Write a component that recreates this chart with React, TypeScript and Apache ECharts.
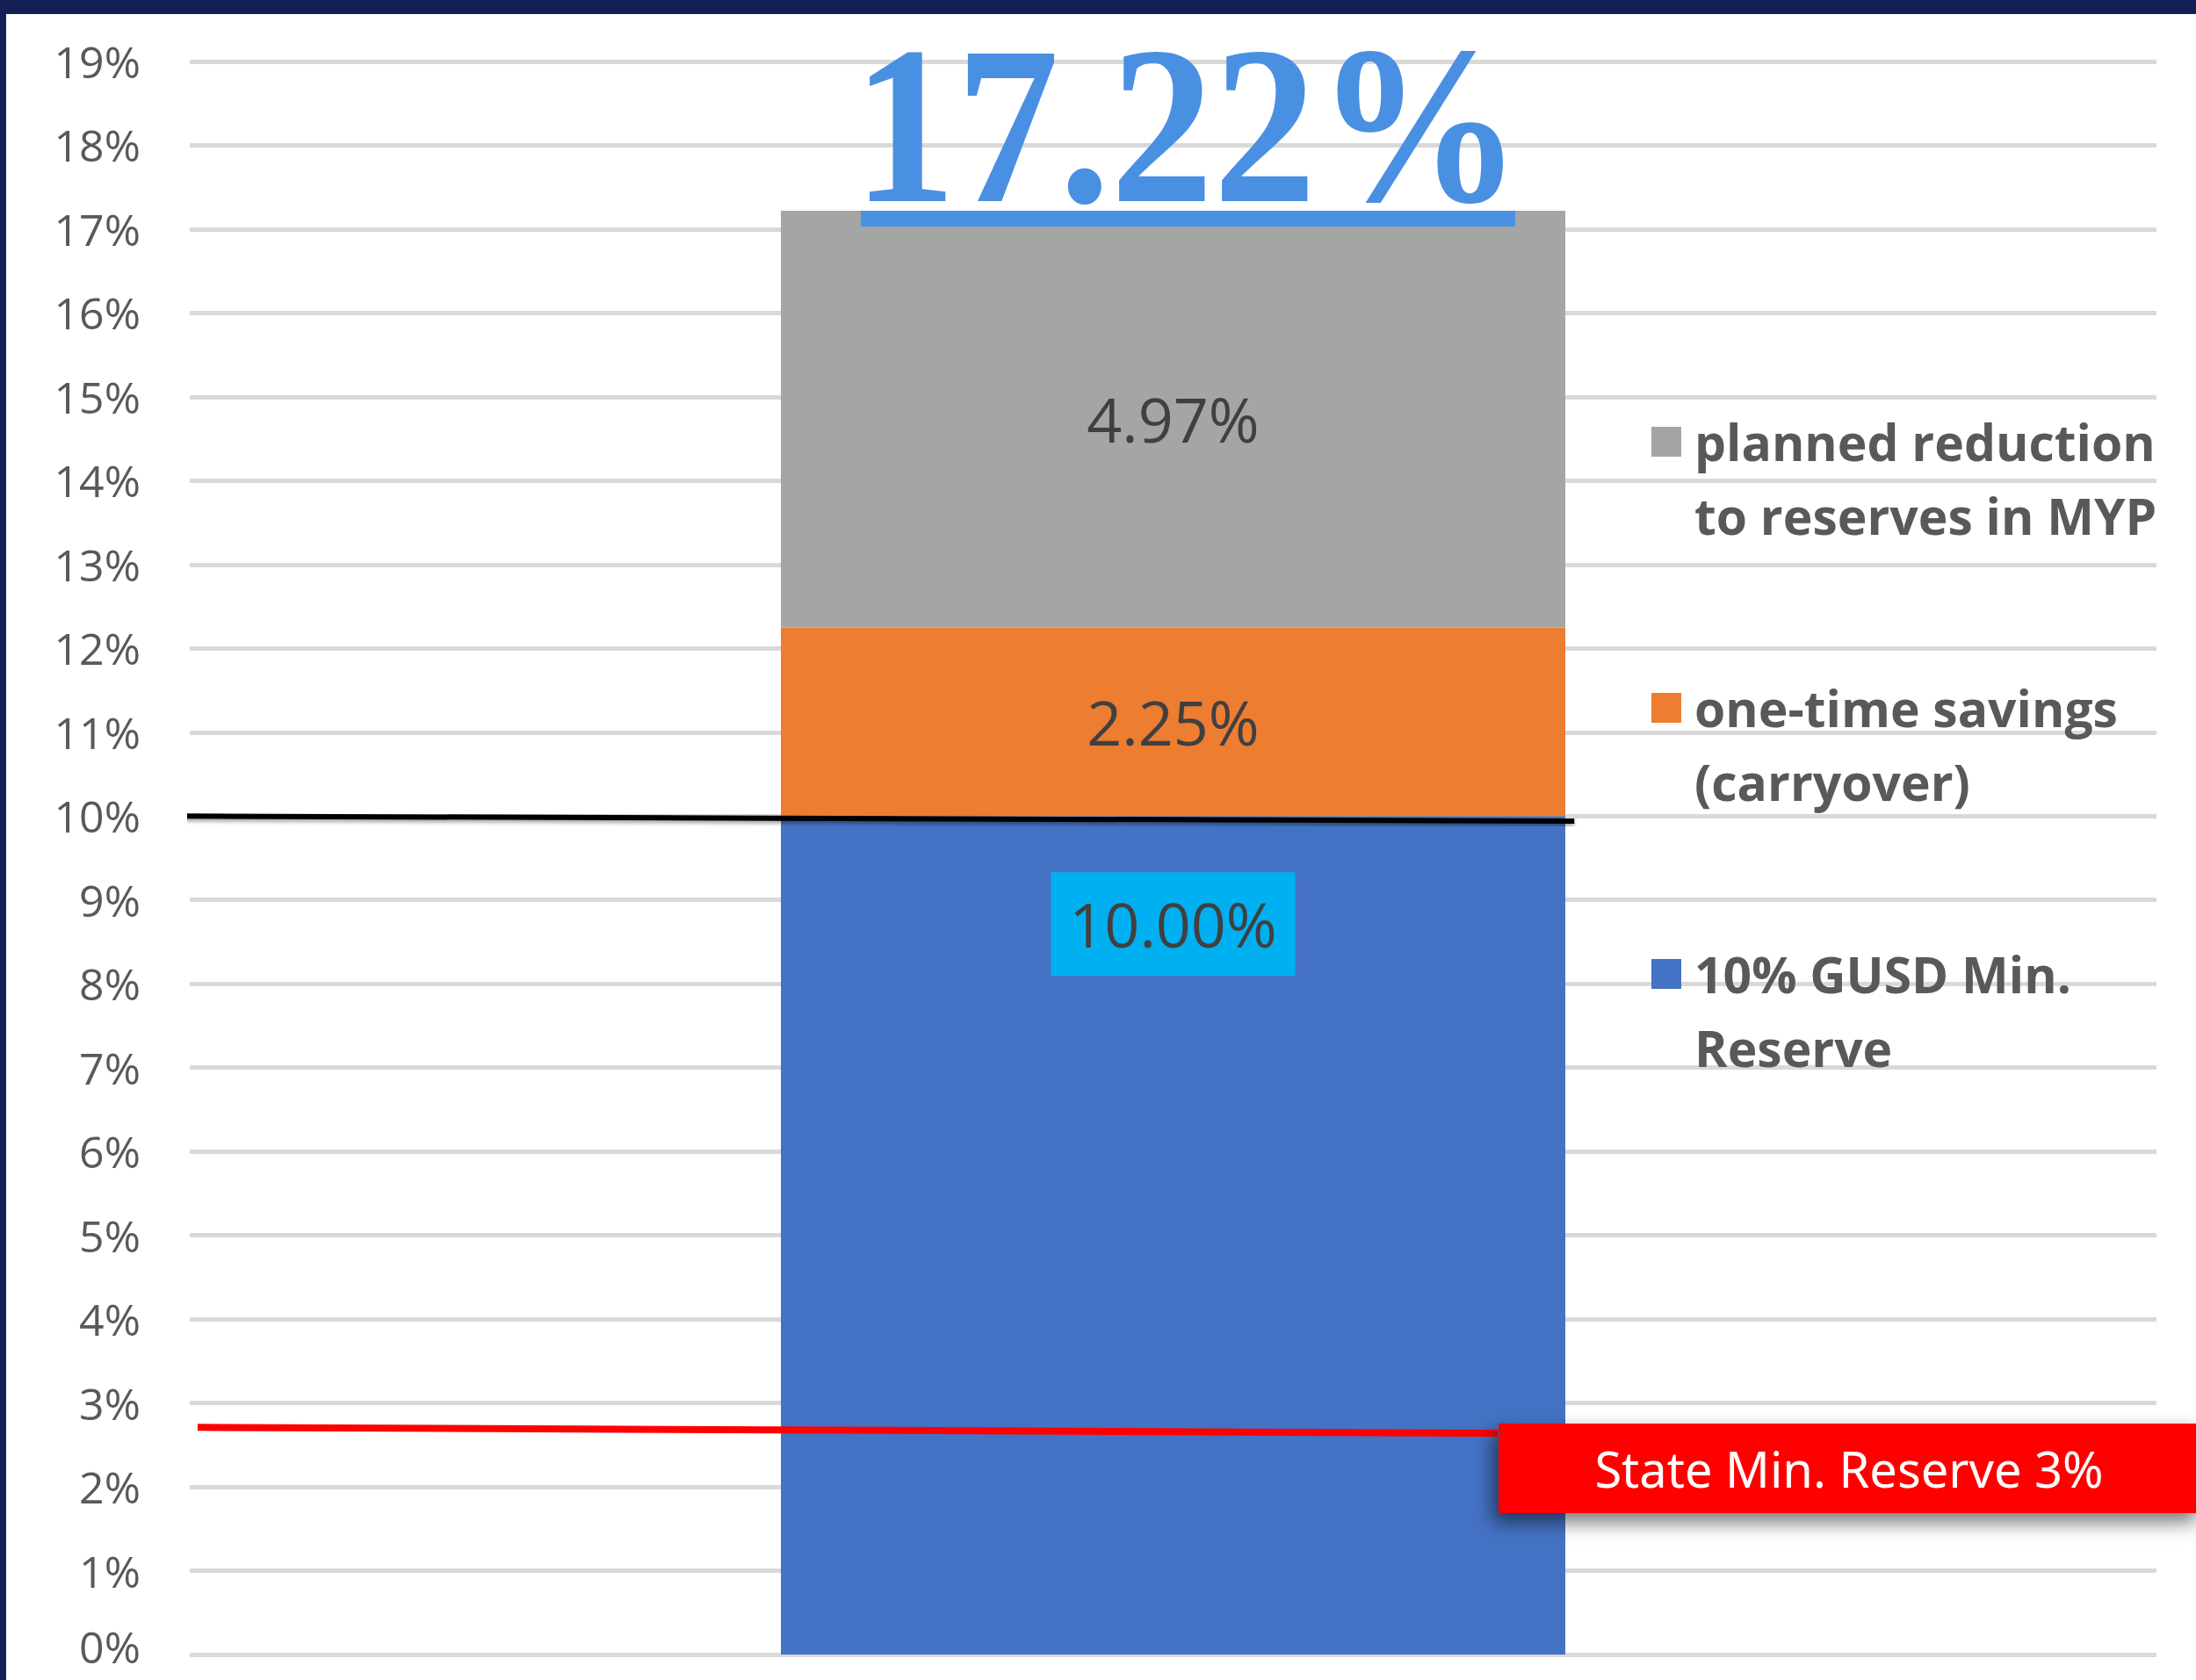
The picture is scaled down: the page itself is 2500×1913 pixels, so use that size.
import React, { useEffect, useRef } from "react";
import * as echarts from "echarts";

// ---- data ----
const categories = [""];
const seriesNames = [
  "10% GUSD Min. Reserve",
  "one-time savings (carryover)",
  "planned reduction to reserves in MYP",
];
const minReserve = [10.0];
const oneTimeSavings = [2.25];
const plannedReduction = [4.97];
const legendOrder = [seriesNames[2], seriesNames[1], seriesNames[0]];
const legendLabels: Record<string, string> = {
  "planned reduction to reserves in MYP": "planned reduction\nto reserves in MYP",
  "one-time savings (carryover)": "one-time savings\n(carryover)",
  "10% GUSD Min. Reserve": "10% GUSD Min.\nReserve",
};
const yMin = 0;
const yMax = 19;
const yInterval = 1;
// reference lines: [position along a hidden 0-100 x scale, value in %]
const districtLine = [
  [-0.5, 10.0],
  [70.4, 9.94],
];
const stateLine = [
  [0.4, 2.71],
  [66.5, 2.64],
];
const stateLabel = "State Min. Reserve 3%";

const total = minReserve[0] + oneTimeSavings[0] + plannedReduction[0];

// legend icon: square aligned with the first text line (invisible anchors set the box)
const legendIcon =
  "path://M0,0L0.01,0L0.01,0.01Z M0,25H34V59H0Z M33.99,168L34,168L34,167.99Z";

export default function App() {
  const ref = useRef<HTMLDivElement>(null);
  useEffect(() => {
    if (!ref.current) return;
    const chart = echarts.init(ref.current, null, { renderer: "svg" });
    const segLabel = {
      show: true,
      position: "inside",
      color: "#404040",
      fontSize: 70,
      fontFamily: "Open Sans",
      formatter: (p: any) => Number(p.value).toFixed(2) + "%",
    };
    chart.setOption({
      animation: false,
      backgroundColor: "#ffffff",
      grid: { left: 216, right: 45, top: 70, bottom: 29, containLabel: false },
      xAxis: [
        {
          type: "category",
          data: categories,
          axisLine: { show: false },
          axisTick: { show: false },
          axisLabel: { show: false },
        },
        { type: "value", min: 0, max: 100, show: false },
      ],
      yAxis: {
        type: "value",
        min: yMin,
        max: yMax,
        interval: yInterval,
        axisLine: { show: false },
        axisTick: { show: false },
        axisLabel: {
          formatter: (v: number) => (v === 0 ? "{z|" + v + "%}" : v + "%"),
          fontSize: 50,
          lineHeight: 44,
          color: "#595959",
          fontFamily: "Open Sans",
          margin: 56,
          rich: {
            z: {
              fontSize: 50,
              color: "#595959",
              fontFamily: "Open Sans",
              padding: [0, 0, 18, 0],
            },
          },
        },
        splitLine: { lineStyle: { color: "#d9d9d9", width: 5 } },
      },
      legend: {
        data: legendOrder,
        orient: "vertical",
        left: 1875,
        top: 456,
        itemWidth: 34,
        itemHeight: 168,
        itemGap: 135,
        icon: legendIcon,
        selectedMode: false,
        formatter: (n: string) => legendLabels[n] || n,
        textStyle: {
          fontSize: 57,
          fontWeight: "bold",
          color: "#595959",
          fontFamily: "Open Sans",
          lineHeight: 84,
          padding: [0, 0, 0, 10],
        },
      },
      series: [
        {
          name: seriesNames[0],
          type: "bar",
          stack: "total",
          barWidth: 893,
          data: minReserve,
          itemStyle: { color: "#4472c4" },
          label: {
            ...segLabel,
            position: "insideTop",
            distance: 64,
            backgroundColor: "#00b0f0",
            padding: [22, 21],
            lineHeight: 74,
          },
        },
        {
          name: seriesNames[1],
          type: "bar",
          stack: "total",
          data: oneTimeSavings,
          itemStyle: { color: "#ed7d31" },
          label: segLabel,
        },
        {
          name: seriesNames[2],
          type: "bar",
          stack: "total",
          data: plannedReduction,
          itemStyle: { color: "#a5a5a5" },
          label: segLabel,
        },
        {
          name: "district minimum",
          type: "line",
          xAxisIndex: 1,
          data: districtLine,
          symbol: "none",
          clip: false,
          silent: true,
          z: 5,
          lineStyle: {
            color: "#000000",
            width: 6,
            shadowColor: "rgba(0,0,0,0.35)",
            shadowBlur: 4,
            shadowOffsetY: 3,
          },
        },
        {
          name: "state minimum",
          type: "line",
          xAxisIndex: 1,
          data: stateLine,
          symbol: "none",
          clip: false,
          silent: true,
          z: 5,
          lineStyle: { color: "#ff0000", width: 8 },
        },
      ],
      graphic: [
        {
          type: "rect",
          z: 100,
          shape: { x: 0, y: 0, width: 2500, height: 16 },
          style: { fill: "#141f55" },
        },
        {
          type: "rect",
          z: 100,
          shape: { x: 0, y: 0, width: 7, height: 1913 },
          style: { fill: "#141f55" },
        },
        {
          type: "text",
          z: 100,
          x: 1352,
          y: 142,
          scaleX: 0.915,
          style: {
            text: total.toFixed(2) + "%",
            fontFamily: "Liberation Serif",
            fontWeight: "bold",
            fontSize: 256,
            fill: "#4a90e2",
            textAlign: "center",
            textVerticalAlign: "middle",
          },
        },
        {
          type: "rect",
          z: 100,
          shape: { x: 980, y: 240, width: 745, height: 18 },
          style: { fill: "#4a90e2" },
        },
        {
          type: "rect",
          z: 100,
          shape: { x: 1706, y: 1621, width: 800, height: 102 },
          style: {
            fill: "#ff0000",
            shadowColor: "rgba(0,0,0,0.55)",
            shadowBlur: 22,
            shadowOffsetX: -6,
            shadowOffsetY: 10,
          },
        },
        {
          type: "text",
          z: 101,
          x: 2105,
          y: 1672,
          style: {
            text: stateLabel,
            fontFamily: "Noto Sans",
            fontSize: 56,
            fill: "#ffffff",
            textAlign: "center",
            textVerticalAlign: "middle",
          },
        },
      ],
    });
    return () => chart.dispose();
  }, []);
  return (
    <div
      ref={ref}
      style={{ position: "absolute", left: 0, top: 0, width: 2500, height: 1913 }}
    />
  );
}
